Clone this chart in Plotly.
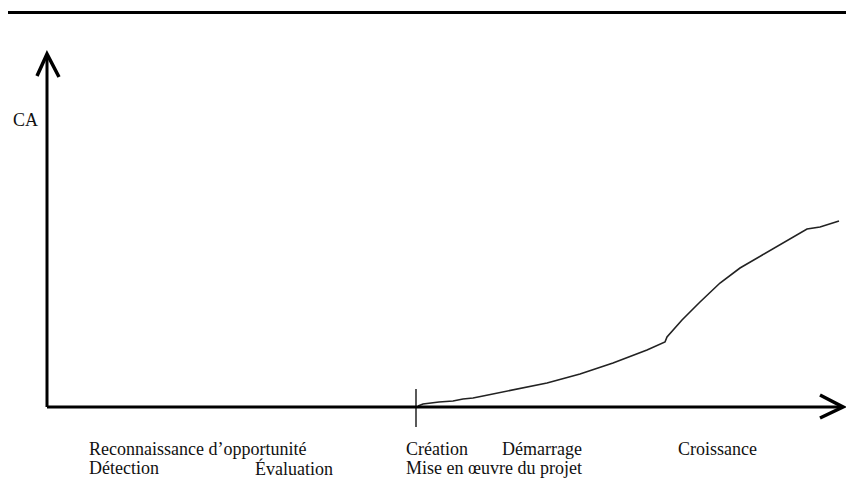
import plotly.graph_objects as go

# Courbe du chiffre d'affaires (CA) en fonction du temps (unités arbitraires)
temps = [371, 376, 392, 406, 416, 426, 436, 450, 466, 500, 533, 566, 600, 618,
         620, 635, 653, 673, 693, 720, 740, 760, 773, 792]
ca = [1, 3, 5, 6, 8, 9, 11, 14, 17, 24, 33, 44, 57, 65,
      70, 87, 105, 124, 139, 155, 167, 178, 180, 186]

# Position de la création (repère sur l'axe du temps)
creation_t = 369

# Étiquettes des phases
phase_labels = [
    "Reconnaissance d\u2019opportunité",
    "Détection",
    "Évaluation",
    "Création",
    "Démarrage",
    "Mise en œuvre du projet",
    "Croissance",
]
phase_t = [40, 40, 206, 357, 453, 357, 629]
phase_row = [1, 2, 2, 1, 1, 2, 1]

axis_label_y = "CA"
x_max = 796
y_max = 353

fig = go.Figure()

fig.add_trace(go.Scatter(
    x=temps, y=ca, mode="lines",
    line=dict(color="#222222", width=1.6),
    hoverinfo="skip", showlegend=False,
))

black = "#000000"
shapes = []
# axes
shapes.append(dict(type="line", xref="x", yref="y", x0=0, y0=0, x1=x_max - 1, y1=0,
                   line=dict(color=black, width=3)))
shapes.append(dict(type="line", xref="x", yref="y", x0=0, y0=0, x1=0, y1=y_max - 1,
                   line=dict(color=black, width=3)))
# arrow heads (open chevrons)
shapes.append(dict(type="path", xref="x", yref="y",
                   path=f"M {x_max-23},12 L {x_max},0 L {x_max-23},-11",
                   line=dict(color=black, width=3.5)))
shapes.append(dict(type="path", xref="x", yref="y",
                   path=f"M -10,{y_max-22} L 0,{y_max} L 12,{y_max-23}",
                   line=dict(color=black, width=3.5)))
# creation tick
shapes.append(dict(type="line", xref="x", yref="y", x0=creation_t, y0=18, x1=creation_t, y1=-20,
                   line=dict(color=black, width=1.3)))
# top rule
shapes.append(dict(type="line", xref="paper", yref="paper", x0=0, y0=1 - 4.5 / 472,
                   x1=1, y1=1 - 4.5 / 472, line=dict(color=black, width=3)))

annotations = []
font = dict(family="Liberation Serif, Times New Roman, serif", size=18, color="#111111")
for lab, t, r in zip(phase_labels, phase_t, phase_row):
    annotations.append(dict(x=t, y=-42 if r == 1 else -61, xref="x", yref="y",
                            text=lab, showarrow=False, xanchor="left", yanchor="middle",
                            font=font))
annotations.append(dict(x=-36, y=287, xref="x", yref="y", text=axis_label_y,
                        showarrow=False, xanchor="left", yanchor="middle", font=font))

fig.update_layout(
    width=846, height=472,
    margin=dict(l=0, r=0, t=0, b=0),
    paper_bgcolor="white", plot_bgcolor="white",
    xaxis=dict(range=[-39, 807], visible=False, fixedrange=True),
    yaxis=dict(range=[-73, 399], visible=False, fixedrange=True),
    shapes=shapes, annotations=annotations,
    showlegend=False,
)

fig.write_html("out.html")
